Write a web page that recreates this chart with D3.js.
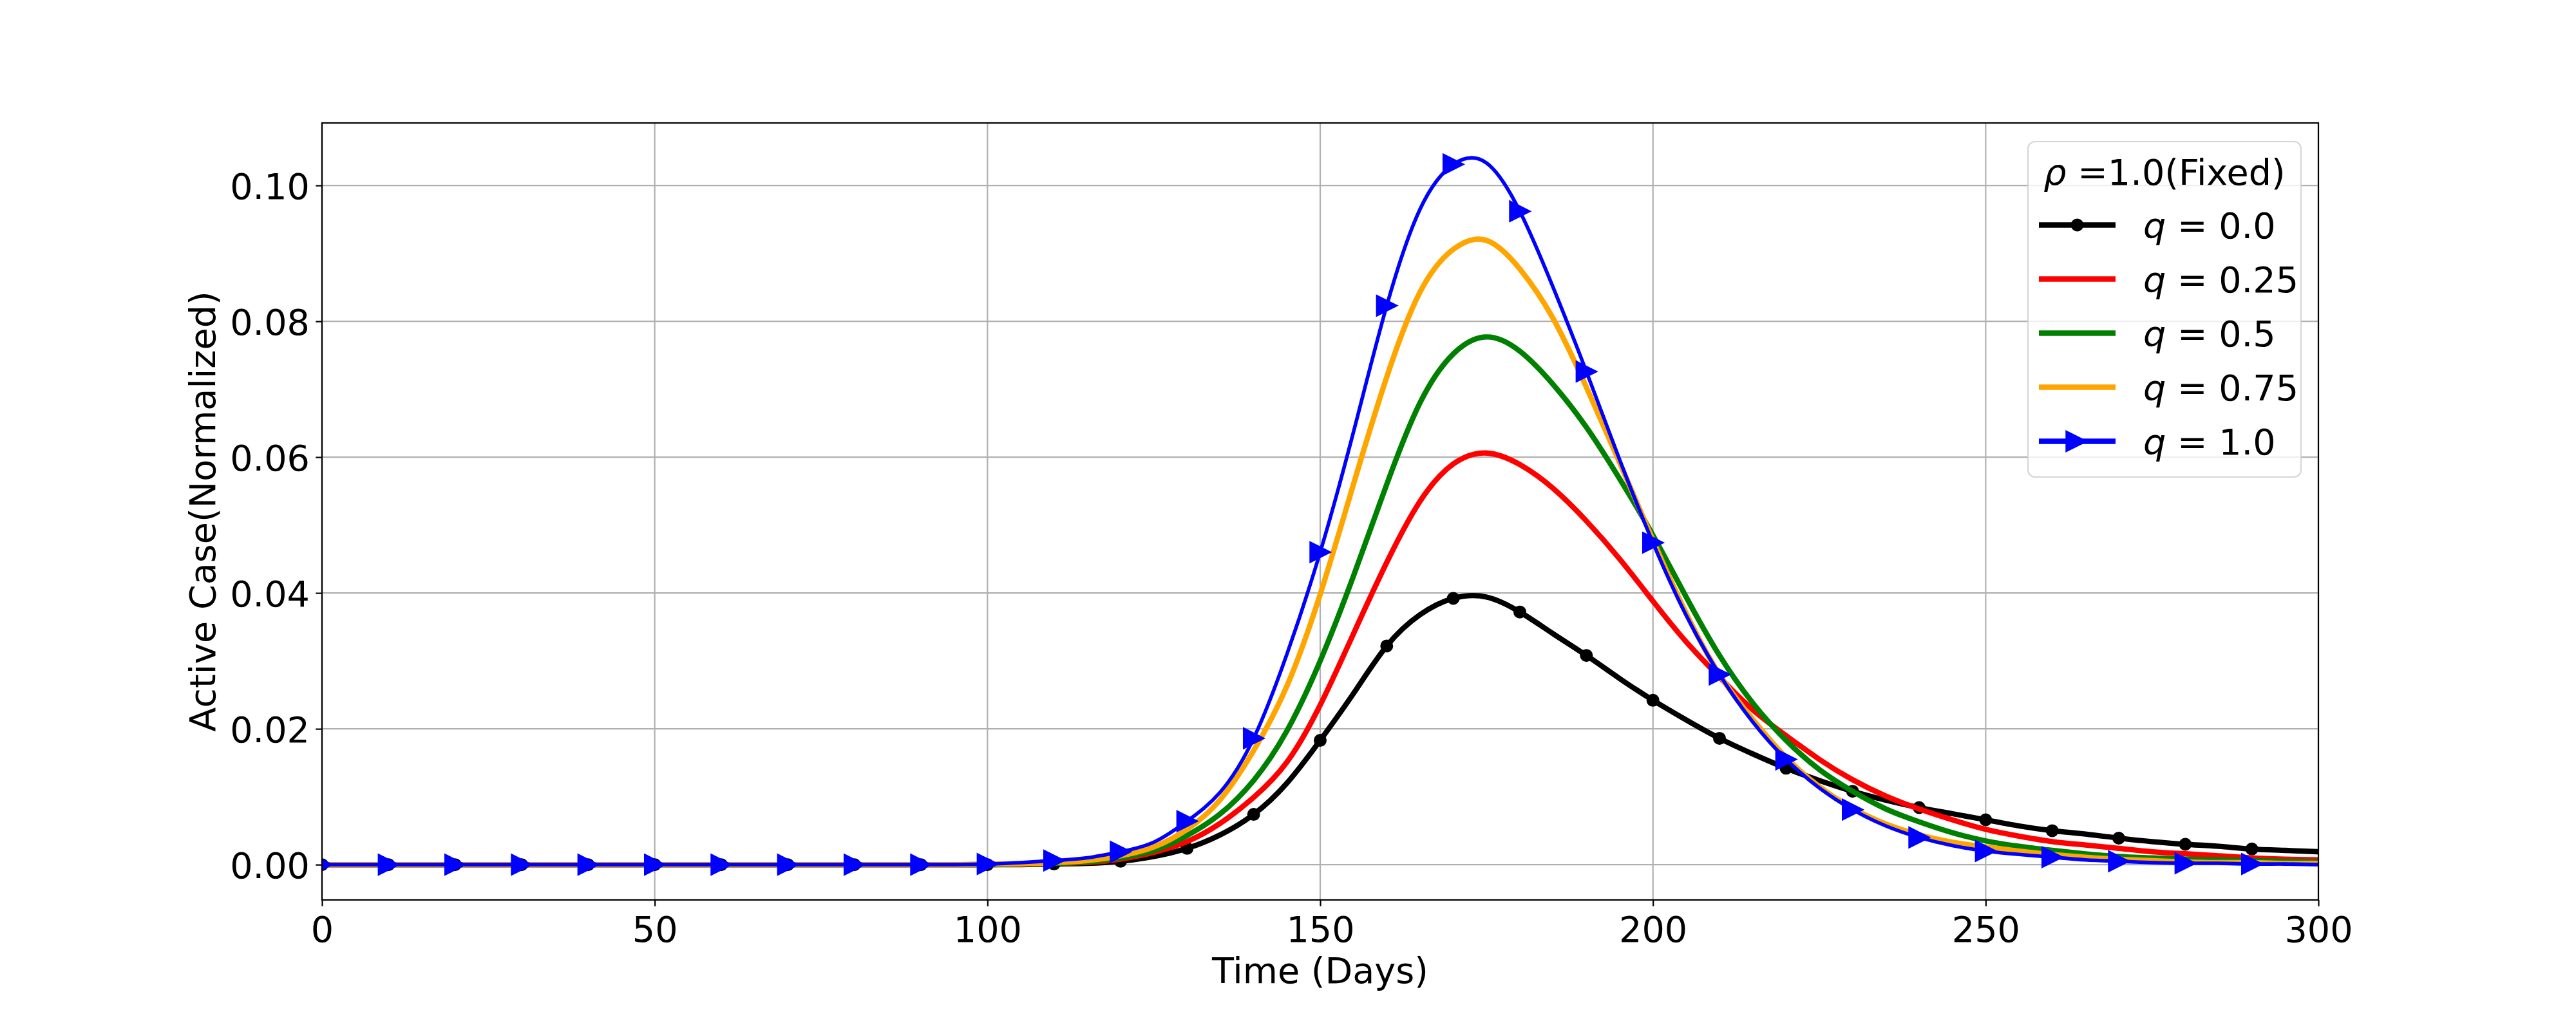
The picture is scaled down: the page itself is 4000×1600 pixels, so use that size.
<!DOCTYPE html>
<html>
<head>
<meta charset="utf-8">
<script src="https://cdn.jsdelivr.net/npm/d3@7"></script>
<style>
  body { margin: 0; background: #fff; }
  text { font-family: "DejaVu Sans", sans-serif; }
</style>
</head>
<body>
<div id="chart"></div>
<script>
// time axis (days), one reading every 5 days
var days = [0, 5, 10, 15, 20, 25, 30, 35, 40, 45,
            50, 55, 60, 65, 70, 75, 80, 85, 90, 95,
            100, 105, 110, 115, 120, 125, 130, 135, 140, 145,
            150, 155, 160, 165, 170, 175, 180, 185, 190, 195,
            200, 205, 210, 215, 220, 225, 230, 235, 240, 245,
            250, 255, 260, 265, 270, 275, 280, 285, 290, 295, 300];

// active cases (normalized) for each q
var q00 = [0, 0, 0, 0, 0, 0, 0, 0, 0, 0,
           0, 0, 0, 0, 0, 0, 0, 0, 0, 0,
           0.0000, 0.0000, 0.0001, 0.0002, 0.0005, 0.0012, 0.0024, 0.0044, 0.0074, 0.0120,
           0.0183, 0.0252, 0.0322, 0.0368, 0.0392, 0.0394, 0.0372, 0.0340, 0.0308, 0.0274,
           0.0242, 0.0213, 0.0186, 0.0163, 0.0142, 0.0124, 0.0108, 0.0095, 0.0084, 0.0075,
           0.0066, 0.0057, 0.0050, 0.0045, 0.0039, 0.0034, 0.0030, 0.0027, 0.0023, 0.0021, 0.0019];

var q025 = [0, 0, 0, 0, 0, 0, 0, 0, 0, 0,
            0, 0, 0, 0, 0, 0, 0, 0, 0, 0,
            0.0000, 0.0001, 0.0002, 0.0003, 0.0008, 0.0018, 0.0034, 0.0061, 0.0099, 0.0151,
            0.0235, 0.0340, 0.0445, 0.0535, 0.0590, 0.0606, 0.0589, 0.0554, 0.0506, 0.0450,
            0.0388, 0.0328, 0.0276, 0.0228, 0.0190, 0.0155, 0.0125, 0.0101, 0.0082, 0.0066,
            0.0052, 0.0042, 0.0034, 0.0029, 0.0024, 0.0019, 0.0016, 0.0013, 0.0010, 0.0008, 0.0007];

var q05 = [0, 0, 0, 0, 0, 0, 0, 0, 0, 0,
           0, 0, 0, 0, 0, 0, 0, 0, 0, 0,
           0.0000, 0.0001, 0.0002, 0.0004, 0.0010, 0.0021, 0.0043, 0.0075, 0.0124, 0.0197,
           0.0300, 0.0425, 0.0560, 0.0680, 0.0752, 0.0777, 0.0756, 0.0707, 0.0644, 0.0568,
           0.0485, 0.0394, 0.0308, 0.0238, 0.0183, 0.0140, 0.0108, 0.0082, 0.0063, 0.0047,
           0.0035, 0.0027, 0.0021, 0.0016, 0.0012, 0.0010, 0.0008, 0.0007, 0.0006, 0.0005, 0.0004];

var q075 = [0, 0, 0, 0, 0, 0, 0, 0, 0, 0,
            0, 0, 0, 0, 0, 0, 0, 0, 0, 0,
            0.0001, 0.0001, 0.0003, 0.0006, 0.0013, 0.0026, 0.0052, 0.0096, 0.0168, 0.0263,
            0.0398, 0.0560, 0.0718, 0.0843, 0.0906, 0.0919, 0.0877, 0.0804, 0.0703, 0.0592,
            0.0478, 0.0370, 0.0280, 0.0214, 0.0158, 0.0115, 0.0083, 0.0060, 0.0044, 0.0033,
            0.0026, 0.0020, 0.0015, 0.0011, 0.0008, 0.0006, 0.0004, 0.0003, 0.0003, 0.0002, 0.0002];

var q10 = [0, 0, 0, 0, 0, 0, 0, 0, 0, 0,
           0, 0, 0, 0, 0, 0, 0, 0, 0, 0,
           0.0001, 0.0003, 0.0006, 0.0010, 0.0019, 0.0033, 0.0064, 0.0107, 0.0186, 0.0310,
           0.0460, 0.0637, 0.0823, 0.0965, 0.1031, 0.1033, 0.0962, 0.0850, 0.0726, 0.0596,
           0.0474, 0.0367, 0.0280, 0.0210, 0.0155, 0.0113, 0.0081, 0.0057, 0.0040, 0.0028,
           0.0020, 0.0015, 0.0011, 0.0007, 0.0005, 0.0003, 0.0002, 0.0002, 0.0001, 0.0001, 0.0000];

var qLabels = ["0.0", "0.25", "0.5", "0.75", "1.0"];
var xTicks = [0, 50, 100, 150, 200, 250, 300];
var yTicks = [0.00, 0.02, 0.04, 0.06, 0.08, 0.10];

var colors = ["black", "red", "green", "orange", "blue"];

var width = 4000, height = 1600;
var mLeft = 500, mRight = 3600, mTop = 191, mBottom = 1398;
var fs = 55.6;

var svg = d3.select("#chart").append("svg")
  .attr("width", width)
  .attr("height", height);

svg.append("rect").attr("width", width).attr("height", height).attr("fill", "#fff");

var x = d3.scaleLinear().domain([0, 300]).range([mLeft, mRight]);
var y = d3.scaleLinear().domain([-0.0052, 0.1092]).range([mBottom, mTop]);

svg.append("clipPath").attr("id", "plotclip")
  .append("rect")
  .attr("x", mLeft).attr("y", mTop)
  .attr("width", mRight - mLeft).attr("height", mBottom - mTop);

// grid
var grid = svg.append("g");
grid.selectAll(".gx").data(xTicks).enter().append("line")
  .attr("x1", function(d){ return x(d); }).attr("x2", function(d){ return x(d); })
  .attr("y1", mTop).attr("y2", mBottom)
  .attr("stroke", "#b0b0b0").attr("stroke-width", 2.2);
grid.selectAll(".gy").data(yTicks).enter().append("line")
  .attr("y1", function(d){ return y(d); }).attr("y2", function(d){ return y(d); })
  .attr("x1", mLeft).attr("x2", mRight)
  .attr("stroke", "#b0b0b0").attr("stroke-width", 2.2);

function triangle() {
  var s = 15.3;
  return "M" + s + ",0L" + (-s) + "," + s + "L" + (-s) + "," + (-s) + "Z";
}

// series
var allSeries = [q00, q025, q05, q075, q10];
var widths = [8.3, 8.3, 8.3, 8.3, 5.6];

var line = d3.line()
  .x(function(d){ return x(d.day); })
  .y(function(d){ return y(d.v); })
  .curve(d3.curveNatural);

var plot = svg.append("g").attr("clip-path", "url(#plotclip)");

allSeries.forEach(function(vals, i){
  var pts = days.map(function(dd, k){ return {day: dd, v: vals[k]}; });
  plot.append("path")
    .datum(pts)
    .attr("d", line)
    .attr("fill", "none")
    .attr("stroke", colors[i])
    .attr("stroke-width", widths[i])
    .attr("stroke-linejoin", "round")
    .attr("stroke-linecap", "square");

  var marks = pts.filter(function(p){ return p.day % 10 === 0 && p.day <= 290; });
  if (i === 0) {
    plot.selectAll(".dot").data(marks).enter().append("circle")
      .attr("cx", function(p){ return x(p.day); })
      .attr("cy", function(p){ return y(p.v); })
      .attr("r", 8.6)
      .attr("fill", "black")
      .attr("stroke", "black")
      .attr("stroke-width", 2.8);
  }
  if (i === 4) {
    plot.selectAll(".tri").data(marks).enter().append("path")
      .attr("d", triangle)
      .attr("transform", function(p){ return "translate(" + x(p.day) + "," + y(p.v) + ")"; })
      .attr("fill", "blue")
      .attr("stroke", "blue")
      .attr("stroke-width", 2.8)
      .attr("stroke-linejoin", "miter");
  }
});

// axes
var xAxis = svg.append("g")
  .attr("transform", "translate(0," + mBottom + ")")
  .call(d3.axisBottom(x).tickValues(xTicks).tickSize(9.7).tickSizeOuter(0).tickFormat(d3.format("d")));
xAxis.select(".domain").remove();
xAxis.selectAll(".tick line").attr("stroke", "black").attr("stroke-width", 2.2);
xAxis.selectAll(".tick text")
  .attr("y", 65).attr("dy", null)
  .style("font-size", fs + "px").attr("fill", "black");

var yAxis = svg.append("g")
  .attr("transform", "translate(" + mLeft + ",0)")
  .call(d3.axisLeft(y).tickValues(yTicks).tickSize(9.7).tickSizeOuter(0).tickFormat(d3.format(".2f")));
yAxis.select(".domain").remove();
yAxis.selectAll(".tick line").attr("stroke", "black").attr("stroke-width", 2.2);
yAxis.selectAll(".tick text")
  .attr("x", -19).attr("dy", "0.36em")
  .style("font-size", fs + "px").attr("fill", "black");

// frame
svg.append("rect")
  .attr("x", mLeft).attr("y", mTop)
  .attr("width", mRight - mLeft).attr("height", mBottom - mTop)
  .attr("fill", "none").attr("stroke", "black").attr("stroke-width", 2.2);

// axis labels
svg.append("text")
  .attr("x", (mLeft + mRight) / 2).attr("y", 1527)
  .attr("text-anchor", "middle")
  .style("font-size", fs + "px")
  .text("Time (Days)");

svg.append("text")
  .attr("transform", "translate(334," + (mTop + mBottom) / 2 + ") rotate(-90)")
  .attr("text-anchor", "middle")
  .style("font-size", fs + "px")
  .text("Active Case(Normalized)");

// legend
var lg = svg.append("g");
lg.append("rect")
  .attr("x", 3149).attr("y", 220)
  .attr("width", 424).attr("height", 521)
  .attr("rx", 11).attr("ry", 11)
  .attr("fill", "white").attr("fill-opacity", 0.8)
  .attr("stroke", "#cccccc").attr("stroke-opacity", 0.8).attr("stroke-width", 2.2);

var title = lg.append("text")
  .attr("x", 3361).attr("y", 287)
  .attr("text-anchor", "middle")
  .style("font-size", fs + "px");
title.append("tspan").attr("font-style", "italic").text("\u03c1");
title.append("tspan").text(" =1.0(Fixed)");

qLabels.forEach(function(lab, i){
  var ly = 349.5 + i * 84;
  lg.append("line")
    .attr("x1", 3166).attr("x2", 3285)
    .attr("y1", ly).attr("y2", ly)
    .attr("stroke", colors[i]).attr("stroke-width", 8.4);
  if (i === 0) {
    lg.append("circle").attr("cx", 3225.5).attr("cy", ly).attr("r", 8.6)
      .attr("fill", "black").attr("stroke", "black").attr("stroke-width", 2.8);
  }
  if (i === 4) {
    lg.append("path").attr("d", triangle)
      .attr("transform", "translate(3224," + ly + ")")
      .attr("fill", "blue").attr("stroke", "blue").attr("stroke-width", 2.8);
  }
  var t = lg.append("text")
    .attr("x", 3328).attr("y", ly + 20.5)
    .style("font-size", fs + "px");
  t.append("tspan").attr("font-style", "italic").text("q");
  t.append("tspan").text(" = " + lab);
});
</script>
</body>
</html>
